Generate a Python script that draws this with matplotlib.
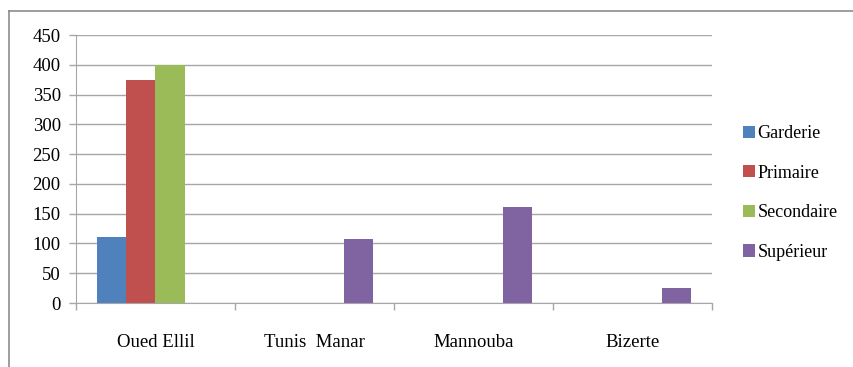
import matplotlib.pyplot as plt
import numpy as np
from matplotlib.lines import Line2D

categories = ['Oued Ellil', 'Tunis  Manar', 'Mannouba', 'Bizerte']
series = ['Garderie', 'Primaire', 'Secondaire', 'Supérieur']
garderie = [110, 0, 0, 0]
primaire = [375, 0, 0, 0]
secondaire = [400, 0, 0, 0]
superieur = [0, 107, 162, 25]
colors = ['#4F81BD', '#C0504D', '#9BBB59', '#8064A2']

plt.rcParams['font.family'] = ['Liberation Serif', 'DejaVu Serif']

fig = plt.figure(figsize=(8.54, 3.67), dpi=100)
ax = fig.add_axes([76 / 854, 1 - 303 / 367, (712 - 76) / 854, (303 - 35) / 367])

x = np.arange(len(categories))
width = 0.1825
values = [garderie, primaire, secondaire, superieur]
for i, (name, vals) in enumerate(zip(series, values)):
    ax.bar(x + (i - 1.5) * width, vals, width, color=colors[i], label=name,
           zorder=3, linewidth=0)

ax.set_xlim(-0.5, len(categories) - 0.5)
ax.set_ylim(0, 450)
ax.set_yticks(range(0, 451, 50))
ax.yaxis.grid(True, color='#a6a6a6', linewidth=1, zorder=0)

# category labels in the middle, ticks on the boundaries
ax.set_xticks(x)
ax.set_xticklabels(categories, fontsize=13.5)
ax.tick_params(axis='x', which='major', length=0, pad=22)
ax.set_xticks(np.arange(-0.5, len(categories)), minor=True)
ax.tick_params(axis='x', which='minor', length=5, color='#a6a6a6', width=1)
ax.tick_params(axis='y', length=5, color='#a6a6a6', width=1, labelsize=13.5, pad=6)

for s in ['top', 'right']:
    ax.spines[s].set_visible(False)
for s in ['left', 'bottom']:
    ax.spines[s].set_color('#a6a6a6')
    ax.spines[s].set_zorder(4)

ax.legend(loc='center left', bbox_to_anchor=(743 / 854, 1 - 193 / 367),
          bbox_transform=fig.transFigure, frameon=False, fontsize=13,
          handlelength=0.65, handleheight=0.65, handletextpad=0.15,
          labelspacing=1.25, borderaxespad=0, borderpad=0)

# outer chart frame
fig.add_artist(Line2D([9 / 854, 1], [1 - 11 / 367] * 2, color='#8c8c8c', linewidth=1.2))
fig.add_artist(Line2D([9 / 854] * 2, [0, 1 - 11 / 367], color='#8c8c8c', linewidth=1.2))

fig.savefig('out.png', dpi=100)
